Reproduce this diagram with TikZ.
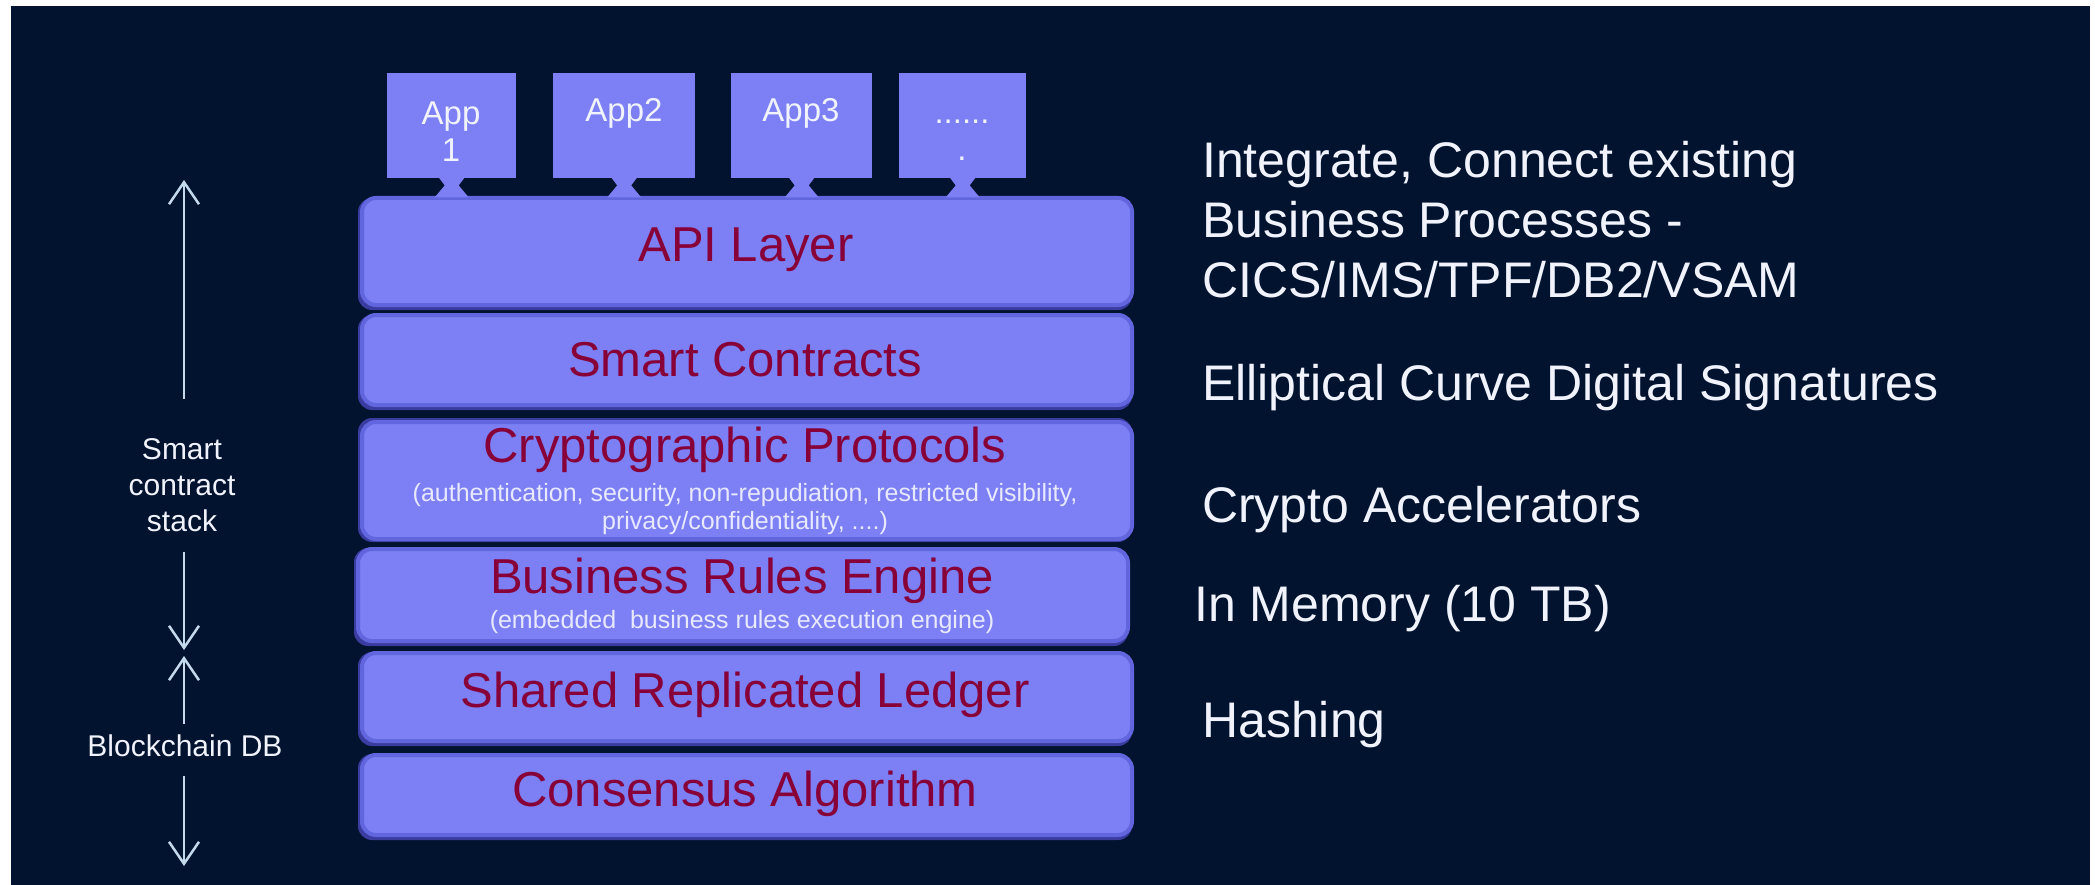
\documentclass[tikz,border=0pt]{standalone}
\usepackage{fontspec}
\setmainfont{Liberation Sans}
\usetikzlibrary{arrows.meta,calc}
\definecolor{bg}{RGB}{1,19,46}
\definecolor{layerfill}{RGB}{124,128,244}
\definecolor{layeredge}{RGB}{98,102,222}
\definecolor{shadowc}{RGB}{58,60,160}
\definecolor{textred}{RGB}{135,0,55}
\definecolor{subtext}{RGB}{232,232,255}
\definecolor{whitetxt}{RGB}{240,242,252}
\definecolor{arrowc}{RGB}{195,218,236}
\begin{document}
\begin{tikzpicture}[x=1pt,y=-1pt,
  layer/.style={draw=layeredge, line width=4pt, fill=layerfill, rounded corners=14pt,
    inner sep=0pt, anchor=north west},
  layershadow/.style={fill=shadowc, rounded corners=14pt},
  appbox/.style={fill=layerfill, inner sep=0pt, anchor=north west},
  neck/.style={fill=layerfill},
  title/.style={text=textred, font=\fontsize{49}{55}\selectfont, inner sep=0pt},
  sub/.style={text=subtext, font=\fontsize{25}{28}\selectfont, inner sep=0pt, align=center},
  apptxt/.style={text=whitetxt, font=\fontsize{33}{37}\selectfont, inner sep=0pt},
  lefttxt/.style={text=whitetxt, font=\fontsize{30}{36}\selectfont, inner sep=0pt, align=center},
  righttxt/.style={text=whitetxt, font=\fontsize{50}{60}\selectfont, inner sep=0pt, align=left, anchor=west},
  larrow/.style={draw=arrowc, line width=2.5pt, -{Straight Barb[length=22pt,width=30pt]}}
]
\useasboundingbox (0,0) rectangle (2095,885);
\fill[white] (0,0) rectangle (2095,885);
\fill[bg] (11,6) rectangle (2090,885);

% shadows below layers
\fill[layershadow] (358,198) rectangle (1132,310);
\fill[layershadow] (358,315) rectangle (1132,410);
\fill[layershadow] (358,418) rectangle (1132,542);
\fill[layershadow] (354,548) rectangle (1128,646);
\fill[layershadow] (358,652) rectangle (1132,746);
\fill[layershadow] (358,754) rectangle (1132,840);

% app boxes
\node[appbox, minimum width=129pt, minimum height=105pt] (a1) at (387,73) {};
\node[appbox, minimum width=142pt, minimum height=105pt] (a2) at (553,73) {};
\node[appbox, minimum width=141pt, minimum height=105pt] (a3) at (731,73) {};
\node[appbox, minimum width=127pt, minimum height=105pt] (a4) at (899,73) {};

\node[apptxt, align=center] (t1) at (451,132) {App\\1};
\node[apptxt] (t2) at (624,113) {App2};
\node[apptxt] (t3) at (801,113) {App3};
\node[apptxt, align=center] (t4) at (962,140) {......\\.};

% layers
\node[layer, minimum width=770pt, minimum height=107pt] (api) at (360,196) {};
\node[layer, minimum width=770pt, minimum height=90pt] (sc) at (360,313) {};
\node[layer, minimum width=770pt, minimum height=117pt] (cp) at (360,420) {};
\node[layer, minimum width=770pt, minimum height=92pt] (br) at (356,547) {};
\node[layer, minimum width=770pt, minimum height=88pt] (sl) at (360,651) {};
\node[layer, minimum width=770pt, minimum height=80pt] (ca) at (360,753) {};

% necks joining apps to the API layer
\foreach \a in {a1,a2,a3,a4}{
  \fill[neck] ($(\a.south)+(-13,-1)$) -- ($(\a.south)+(13,-1)$) -- ($(\a.south)+(7,7)$)
     -- ($(\a.south)+(17,19)$) -- ($(\a.south)+(-17,19)$) -- ($(\a.south)+(-7,7)$) -- cycle;
}

% layer texts
\node[title] (apit) at (746,250) {API Layer};
\node[title] (sct) at (745,360) {Smart Contracts};
\node[title] (cpt) at (745,450) {Cryptographic Protocols};
\node[sub] (cps) at (745,509) {(authentication, security, non-repudiation, restricted visibility,\\privacy/confidentiality, ....)};
\node[title] (brt) at (742,581) {Business Rules Engine};
\node[sub] (brs) at (742,622) {(embedded\ \ business rules execution engine)};
\node[title] (slt) at (745,695) {Shared Replicated Ledger};
\node[title] (cat) at (745,794) {Consensus Algorithm};

% left side labels and arrows
\node[lefttxt] (stack) at (182,485) {Smart\\contract\\stack};
\node[lefttxt] (bdb) at (185,746) {Blockchain DB};
\coordinate (u1s) at (184,399);
\coordinate (u1e) at (184,180);
\coordinate (d1s) at (184,552);
\coordinate (d1e) at (184,650);
\coordinate (u2s) at (184,724);
\coordinate (u2e) at (184,656);
\coordinate (d2s) at (184,776);
\coordinate (d2e) at (184,866);
\draw[larrow] (u1s) -- (u1e);
\draw[larrow] (d1s) -- (d1e);
\draw[larrow] (u2s) -- (u2e);
\draw[larrow] (d2s) -- (d2e);

% right side texts
\node[righttxt] (r1) at (1202,220) {Integrate, Connect existing\\Business Processes -\\CICS/IMS/TPF/DB2/VSAM};
\node[righttxt] (r2) at (1202,388) {Elliptical Curve Digital Signatures};
\node[righttxt] (r3) at (1202,510) {Crypto Accelerators};
\node[righttxt] (r4) at (1194,609) {In Memory (10 TB)};
\node[righttxt] (r5) at (1202,725) {Hashing};
\end{tikzpicture}
\end{document}
